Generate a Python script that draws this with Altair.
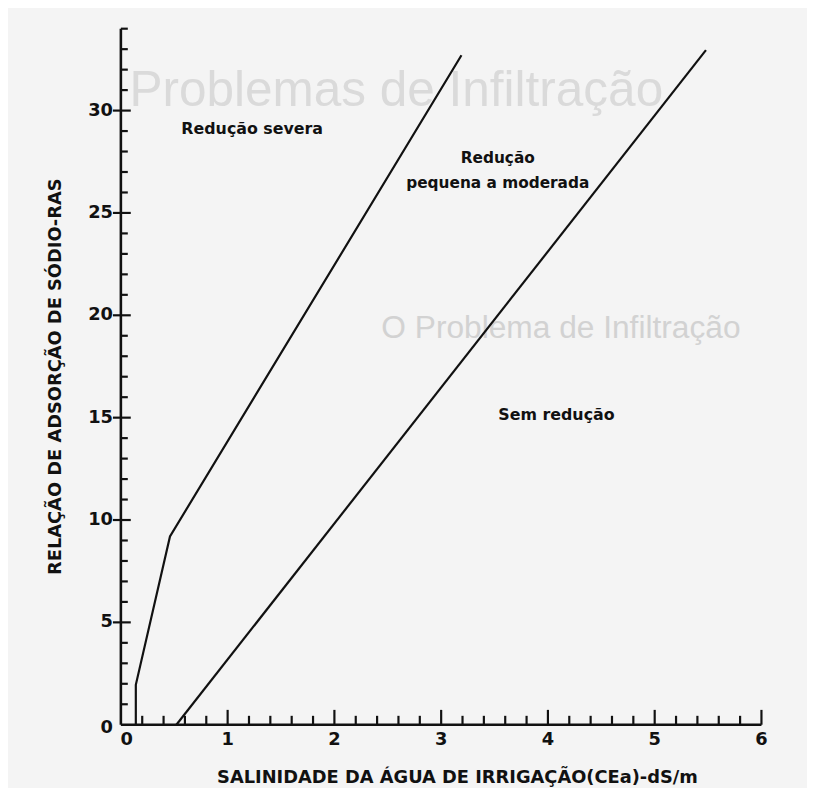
import altair as alt
import pandas as pd

W, H = 647, 703

# ---- data ----
severe_x = [0.14, 0.14, 0.46, 3.19]
severe_y = [0.0, 1.95, 9.2, 32.7]
moderate_x = [0.52, 5.48]
moderate_y = [0.0, 32.95]

y_major = [5, 10, 15, 20, 25, 30]
y_minor = [1, 2, 3, 4, 6, 7, 8, 9, 11, 12, 13, 14, 16, 17, 18, 19,
           21, 22, 23, 24, 26, 27, 28, 29, 31, 32, 33, 34]
x_major = [1, 2, 3, 4, 5, 6]
x_minor = [0.2, 0.4, 0.6, 0.8, 1.2, 1.4, 1.6, 1.8, 2.2, 2.4, 2.6, 2.8,
           3.2, 3.4, 3.6, 3.8, 4.2, 4.4, 4.6, 4.8, 5.2, 5.4, 5.6, 5.8]
y_label_vals = [5, 10, 15, 20, 25, 30]
x_label_vals = [1, 2, 3, 4, 5, 6]

ann_text = ["Redução severa", "Redução", "pequena a moderada", "Sem redução"]
ann_x = [1.23, 3.53, 3.53, 4.08]
ann_y = [29.1, 27.66, 26.45, 15.13]
ann_size = [16, 15.5, 15.5, 16]

x_title = "SALINIDADE DA ÁGUA DE IRRIGAÇÃO(CEa)-dS/m"
y_title = "RELAÇÃO DE ADSORÇÃO DE SÓDIO-RAS"

# faint headings showing through from the other side of the scanned page
ghost_text = ["Problemas de Infiltração", "O Problema de Infiltração"]
ghost_x = [0.08, 2.44]
ghost_y = [30.95, 19.39]
ghost_size = [50, 32]
ghost_color = ["#dadada", "#d2d2d2"]

FONT = "DejaVu Sans"
INK = "#111111"

xs = alt.Scale(domain=[0, 6], nice=False, zero=False)
ys = alt.Scale(domain=[0, 34], nice=False, zero=False)


def X(field):
    return alt.X(field, scale=xs, axis=None)


def Y(field):
    return alt.Y(field, scale=ys, axis=None)


ghost = alt.Chart(pd.DataFrame({"t": ghost_text, "x": ghost_x, "y": ghost_y,
                                "s": ghost_size, "c": ghost_color})).mark_text(
    font="Liberation Sans", align="left", baseline="middle"
).encode(x=X("x:Q"), y=Y("y:Q"), text="t:N",
         size=alt.Size("s:Q", scale=None, legend=None),
         color=alt.Color("c:N", scale=None, legend=None))

rows = []
for i, (a, b) in enumerate(zip(severe_x, severe_y)):
    rows.append({"serie": "severa", "i": i, "x": a, "y": b})
for i, (a, b) in enumerate(zip(moderate_x, moderate_y)):
    rows.append({"serie": "moderada", "i": i, "x": a, "y": b})
lines_df = pd.DataFrame(rows)

lines = alt.Chart(lines_df).mark_line(color=INK, strokeWidth=2.2).encode(
    x=X("x:Q"), y=Y("y:Q"), detail="serie:N", order="i:Q")

# axis lines
xaxis_df = pd.DataFrame({"x": [0], "x2": [6], "y": [0]})
yaxis_df = pd.DataFrame({"x": [0], "y": [0], "y2": [34]})
xaxis_line = alt.Chart(xaxis_df).mark_rule(color=INK, strokeWidth=2.6).encode(
    x=X("x:Q"), x2="x2:Q", y=Y("y:Q"))
yaxis_line = alt.Chart(yaxis_df).mark_rule(color=INK, strokeWidth=2.6).encode(
    x=X("x:Q"), y=Y("y:Q"), y2="y2:Q")

# y ticks (inward)
ymaj = alt.Chart(pd.DataFrame({"v": y_major})).mark_rule(color=INK, strokeWidth=2.2).encode(
    y=Y("v:Q"), x=alt.value(-8), x2=alt.value(10))
ymin = alt.Chart(pd.DataFrame({"v": y_minor})).mark_rule(color=INK, strokeWidth=2.2).encode(
    y=Y("v:Q"), x=alt.value(0), x2=alt.value(7))

# x ticks (inward)
xmaj = alt.Chart(pd.DataFrame({"v": x_major})).mark_rule(color=INK, strokeWidth=2.2).encode(
    x=X("v:Q"), y=alt.value(H), y2=alt.value(H - 15))
xmin = alt.Chart(pd.DataFrame({"v": x_minor})).mark_rule(color=INK, strokeWidth=2.2).encode(
    x=X("v:Q"), y=alt.value(H), y2=alt.value(H - 9))

# tick labels
lab_style = dict(font=FONT, fontSize=18, fontWeight="bold", color=INK)
ylab = alt.Chart(pd.DataFrame({"v": y_label_vals})).mark_text(
    align="right", baseline="middle", dx=-8, **lab_style).encode(
    y=Y("v:Q"), x=alt.value(0), text="v:Q")
ylab0 = alt.Chart(pd.DataFrame({"v": [0]})).mark_text(
    align="right", baseline="middle", dx=-8, dy=3, **lab_style).encode(
    y=Y("v:Q"), x=alt.value(0), text="v:Q")
xlab = alt.Chart(pd.DataFrame({"v": x_label_vals})).mark_text(
    align="center", baseline="top", dy=6, **lab_style).encode(
    x=X("v:Q"), y=alt.value(H), text="v:Q")
xlab0 = alt.Chart(pd.DataFrame({"v": [0]})).mark_text(
    align="center", baseline="top", dy=6, dx=6, **lab_style).encode(
    x=X("v:Q"), y=alt.value(H), text="v:Q")

# axis titles
xt = alt.Chart(pd.DataFrame({"t": [x_title]})).mark_text(
    font=FONT, fontSize=18, fontWeight="bold", color=INK, align="center",
    baseline="middle").encode(x=alt.value(340), y=alt.value(H + 54), text="t:N")
yt = alt.Chart(pd.DataFrame({"t": [y_title]})).mark_text(
    font=FONT, fontSize=18, fontWeight="bold", color=INK, align="center",
    baseline="middle", angle=270).encode(x=alt.value(-65), y=alt.value(H / 2), text="t:N")

# annotations
ann = alt.Chart(pd.DataFrame({"t": ann_text, "x": ann_x, "y": ann_y, "s": ann_size})).mark_text(
    font=FONT, fontWeight="bold", color=INK, align="center", baseline="middle").encode(
    x=X("x:Q"), y=Y("y:Q"), text="t:N",
    size=alt.Size("s:Q", scale=None, legend=None))

chart = alt.layer(
    ghost,
    lines, xaxis_line, yaxis_line, ymaj, ymin, xmaj, xmin,
    ylab, ylab0, xlab, xlab0, xt, yt, ann
).properties(
    width=W, height=H,
    padding={"left": 114, "top": 17, "right": 46, "bottom": 60},
    autosize=alt.AutoSizeParams(type="none"),
    background="#f4f4f4",
).configure_view(stroke=None)

chart.save("out.html", embed_options={"renderer": "svg", "actions": False})
